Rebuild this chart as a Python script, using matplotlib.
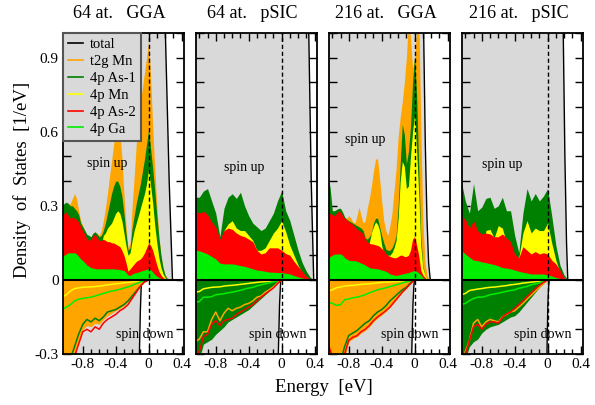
import matplotlib
matplotlib.use('Agg')
import matplotlib.pyplot as plt
from matplotlib.lines import Line2D
from matplotlib.ticker import FixedLocator, MultipleLocator

plt.rcParams['font.family'] = ['Liberation Serif', 'DejaVu Serif']
plt.rcParams['axes.unicode_minus'] = False

# ---------------- data ----------------
titles = ["64 at.   GGA", "64 at.   pSIC", "216 at.   GGA", "216 at.   pSIC"]
legend_labels = ["total", "t2g Mn", "4p As-1", "4p Mn", "4p As-2", "4p Ga"]

# fine energy grid (GGA spin up) and coarse grids
E_fine = [-1.05, -1.025, -1.0, -0.975, -0.95, -0.925, -0.9, -0.875, -0.85, -0.825,
          -0.8, -0.775, -0.75, -0.725, -0.7, -0.675, -0.65, -0.625, -0.6, -0.575,
          -0.55, -0.525, -0.5, -0.475, -0.45, -0.425, -0.4, -0.375, -0.35, -0.325,
          -0.3, -0.275, -0.25, -0.225, -0.2, -0.175, -0.15, -0.125, -0.1, -0.075,
          -0.05, -0.025, 0.0, 0.025, 0.05, 0.075, 0.1, 0.125, 0.15, 0.175,
          0.2, 0.225, 0.25, 0.275, 0.3, 0.325, 0.35]
E_coarse = [-1.05, -1.0, -0.95, -0.9, -0.85, -0.8, -0.75, -0.7, -0.65, -0.6,
            -0.55, -0.5, -0.45, -0.4, -0.35, -0.3, -0.25, -0.2, -0.15, -0.1,
            -0.05, 0.0, 0.05, 0.1, 0.15, 0.2, 0.25, 0.3, 0.35, 0.4]
E_down = [-1.05, -1.0, -0.95, -0.9, -0.85, -0.8, -0.75, -0.7, -0.65, -0.6,
          -0.55, -0.5, -0.45, -0.4, -0.35, -0.3, -0.25, -0.2, -0.15, -0.1,
          -0.05, 0.0]

# ---- panel 1: 64 at. GGA ----
p1_t2g_up = [0.29, 0.29, 0.30, 0.30, 0.31, 0.33, 0.35, 0.33, 0.28, 0.24,
             0.22, 0.20, 0.18, 0.17, 0.17, 0.18, 0.19, 0.19, 0.18, 0.20,
             0.24, 0.29, 0.35, 0.42, 0.48, 0.55, 0.60, 0.62, 0.60, 0.50,
             0.35, 0.22, 0.13, 0.15, 0.30, 0.42, 0.55, 0.65, 0.72, 0.78,
             0.84, 0.90, 0.97, 0.82, 0.62, 0.45, 0.30, 0.18, 0.10, 0.05,
             0.02, 0.01, 0, 0, 0, 0, 0]
p1_as1_up = [0.30, 0.31, 0.315, 0.31, 0.30, 0.30, 0.29, 0.28, 0.265, 0.23,
             0.215, 0.20, 0.185, 0.18, 0.175, 0.19, 0.195, 0.185, 0.175, 0.18,
             0.20, 0.23, 0.27, 0.31, 0.35, 0.38, 0.40, 0.40, 0.38, 0.34,
             0.27, 0.19, 0.12, 0.13, 0.21, 0.26, 0.31, 0.35, 0.39, 0.44,
             0.49, 0.55, 0.61, 0.53, 0.45, 0.36, 0.26, 0.17, 0.10, 0.05,
             0.02, 0.005, 0, 0, 0, 0, 0]
p1_mn4p_up = [0.08, 0.08, 0.08, 0.08, 0.08, 0.08, 0.08, 0.08, 0.08, 0.08,
              0.08, 0.08, 0.08, 0.08, 0.08, 0.08, 0.08, 0.08, 0.08, 0.14,
              0.18, 0.19, 0.21, 0.22, 0.23, 0.25, 0.27, 0.28, 0.27, 0.24,
              0.19, 0.14, 0.10, 0.11, 0.16, 0.20, 0.23, 0.26, 0.29, 0.32,
              0.35, 0.39, 0.45, 0.38, 0.31, 0.22, 0.15, 0.09, 0.05, 0.025,
              0.01, 0, 0, 0, 0, 0, 0]
p1_as2_up = [0.26, 0.27, 0.275, 0.26, 0.25, 0.255, 0.25, 0.245, 0.235, 0.215,
             0.20, 0.185, 0.165, 0.16, 0.165, 0.18, 0.185, 0.17, 0.16, 0.16,
             0.165, 0.16, 0.155, 0.155, 0.15, 0.15, 0.145, 0.14, 0.135, 0.12,
             0.10, 0.07, 0.035, 0.045, 0.055, 0.065, 0.075, 0.08, 0.085, 0.095,
             0.11, 0.13, 0.15, 0.14, 0.12, 0.09, 0.06, 0.035, 0.02, 0.01,
             0.004, 0, 0, 0, 0, 0, 0]
p1_ga_up = [0.10, 0.10, 0.105, 0.11, 0.11, 0.11, 0.11, 0.105, 0.095, 0.085,
            0.078, 0.07, 0.06, 0.055, 0.05, 0.048, 0.046, 0.045, 0.045, 0.045,
            0.045, 0.045, 0.045, 0.045, 0.045, 0.045, 0.044, 0.043, 0.042, 0.04,
            0.038, 0.03, 0.02, 0.018, 0.024, 0.028, 0.03, 0.032, 0.035, 0.038,
            0.04, 0.043, 0.046, 0.04, 0.032, 0.022, 0.015, 0.01, 0.006, 0.003,
            0.001, 0, 0, 0, 0, 0, 0]
p1_t2g_dn = [-0.48, -0.42, -0.34, -0.30, -0.25, -0.20, -0.185, -0.19, -0.175, -0.18,
             -0.16, -0.145, -0.135, -0.125, -0.115, -0.105, -0.09, -0.07, -0.048, -0.025,
             -0.008, 0]
p1_as1_dn = [-0.45, -0.40, -0.32, -0.27, -0.22, -0.18, -0.16, -0.17, -0.155, -0.165,
             -0.15, -0.13, -0.125, -0.12, -0.11, -0.10, -0.085, -0.065, -0.045, -0.025,
             -0.008, 0]
p1_mn4p_dn = [-0.07, -0.06, -0.045, -0.035, -0.032, -0.03, -0.029, -0.028, -0.027, -0.025,
              -0.023, -0.02, -0.018, -0.016, -0.014, -0.012, -0.01, -0.008, -0.006, -0.004,
              -0.002, 0]
p1_as2_dn = [-0.5, -0.45, -0.36, -0.31, -0.26, -0.21, -0.20, -0.21, -0.19, -0.20,
             -0.175, -0.16, -0.15, -0.14, -0.125, -0.115, -0.10, -0.075, -0.05, -0.025,
             -0.008, 0]
p1_ga_dn = [-0.12, -0.11, -0.10, -0.085, -0.078, -0.075, -0.072, -0.07, -0.065, -0.06,
            -0.055, -0.05, -0.045, -0.042, -0.038, -0.033, -0.028, -0.022, -0.015, -0.008,
            -0.003, 0]
p1_Etot_up = [-1.05, 0.17, 0.2, 0.25, 0.29, 0.45]
p1_tot_up = [3.0, 3.0, 1.05, 0.4, 0.0, 0.0]
p1_Etot_dn = [-1.05, -0.125, -0.112, -0.1, -0.09, -0.083, 0.45]
p1_tot_dn = [-3.0, -1.0, -0.3, -0.12, -0.03, 0.0, 0.0]

# ---- panel 2: 64 at. pSIC ----
p2_t2g_up = [0.15, 0.15, 0.15, 0.15, 0.15, 0.15, 0.15, 0.22, 0.24, 0.254,
             0.24, 0.24, 0.24, 0.215, 0.19, 0.14, 0.145, 0.15, 0.185, 0.21,
             0.24, 0.26, 0.21, 0.16, 0.10, 0.06, 0.03, 0.01, 0.0, 0.0]
p2_as1_up = [0.335, 0.335, 0.36, 0.37, 0.32, 0.27, 0.175, 0.29, 0.335, 0.349,
             0.33, 0.355, 0.30, 0.26, 0.23, 0.215, 0.20, 0.21, 0.24, 0.27,
             0.32, 0.36, 0.28, 0.24, 0.18, 0.12, 0.07, 0.035, 0.01, 0.0]
p2_mn4p_up = [0.08, 0.08, 0.08, 0.08, 0.08, 0.08, 0.08, 0.20, 0.227, 0.24,
              0.21, 0.20, 0.20, 0.18, 0.16, 0.12, 0.12, 0.13, 0.16, 0.19,
              0.21, 0.24, 0.195, 0.14, 0.10, 0.06, 0.03, 0.01, 0.0, 0.0]
p2_as2_up = [0.28, 0.27, 0.278, 0.265, 0.235, 0.215, 0.165, 0.20, 0.21, 0.205,
             0.19, 0.18, 0.175, 0.165, 0.155, 0.12, 0.105, 0.11, 0.13, 0.13,
             0.13, 0.12, 0.107, 0.10, 0.075, 0.055, 0.035, 0.015, 0.005, 0.0]
p2_ga_up = [0.12, 0.118, 0.112, 0.105, 0.095, 0.085, 0.068, 0.065, 0.065, 0.065,
            0.062, 0.058, 0.055, 0.05, 0.045, 0.04, 0.038, 0.035, 0.032, 0.031,
            0.03, 0.03, 0.027, 0.024, 0.018, 0.012, 0.008, 0.004, 0.001, 0.0]
p2_as1_dn = [-0.4, -0.32, -0.26, -0.25, -0.24, -0.22, -0.205, -0.19, -0.17, -0.16,
             -0.15, -0.14, -0.13, -0.12, -0.105, -0.09, -0.075, -0.06, -0.045, -0.03,
             -0.014, 0]
p2_t2g_dn = [-0.25, -0.24, -0.21, -0.21, -0.16, -0.13, -0.165, -0.135, -0.115, -0.125,
             -0.115, -0.11, -0.10, -0.095, -0.085, -0.07, -0.065, -0.05, -0.04, -0.028,
             -0.012, 0]
p2_as2_dn = [-0.3, -0.29, -0.23, -0.22, -0.18, -0.165, -0.185, -0.165, -0.16, -0.155,
             -0.14, -0.13, -0.12, -0.11, -0.10, -0.085, -0.07, -0.057, -0.045, -0.033,
             -0.015, 0]
p2_mn4p_dn = [-0.05, -0.047, -0.036, -0.033, -0.03, -0.029, -0.028, -0.025, -0.023, -0.022,
              -0.02, -0.018, -0.016, -0.014, -0.012, -0.01, -0.008, -0.007, -0.005, -0.003,
              -0.002, 0]
p2_ga_dn = [-0.09, -0.088, -0.07, -0.07, -0.068, -0.06, -0.058, -0.056, -0.052, -0.05,
            -0.046, -0.042, -0.037, -0.033, -0.03, -0.024, -0.02, -0.016, -0.012, -0.008,
            -0.004, 0]
p2_Etot_up = [-1.05, 0.31, 0.33, 0.36, 0.39, 0.45]
p2_tot_up = [3.0, 3.0, 1.0, 0.4, 0.0, 0.0]
p2_Etot_dn = [-1.05, -0.05, -0.04, -0.025, -0.015, -0.01, 0.45]
p2_tot_dn = [-3.0, -1.0, -0.3, -0.1, -0.03, 0.0, 0.0]

# ---- panel 3: 216 at. GGA ----
p3_t2g_up = [0.38, 0.34, 0.27, 0.27, 0.28, 0.285, 0.28, 0.27, 0.25, 0.25,
             0.26, 0.25, 0.235, 0.23, 0.26, 0.295, 0.26, 0.23, 0.24, 0.29,
             0.33, 0.38, 0.44, 0.49, 0.49, 0.41, 0.32, 0.24, 0.20, 0.18,
             0.22, 0.27, 0.36, 0.45, 0.58, 0.66, 0.72, 0.80, 0.90, 1.05,
             0.98, 0.86, 0.89, 1.02, 1.1, 0.62, 0.24, 0.08, 0.02, 0,
             0, 0, 0, 0, 0, 0, 0]
p3_as1_up = [0.42, 0.37, 0.28, 0.28, 0.285, 0.29, 0.29, 0.275, 0.255, 0.245,
             0.24, 0.235, 0.23, 0.225, 0.22, 0.215, 0.21, 0.20, 0.17, 0.165,
             0.175, 0.19, 0.23, 0.25, 0.25, 0.215, 0.18, 0.15, 0.125, 0.12,
             0.12, 0.13, 0.15, 0.18, 0.30, 0.47, 0.63, 0.59, 0.47, 0.52,
             0.62, 0.80, 0.91, 0.74, 0.46, 0.18, 0.06, 0.02, 0.005, 0,
             0, 0, 0, 0, 0, 0, 0]
p3_mn4p_up = [0.08, 0.08, 0.08, 0.08, 0.08, 0.08, 0.08, 0.08, 0.08, 0.08,
              0.08, 0.08, 0.08, 0.08, 0.08, 0.08, 0.08, 0.08, 0.08, 0.10,
              0.15, 0.19, 0.215, 0.235, 0.225, 0.20, 0.14, 0.11, 0.10, 0.10,
              0.10, 0.11, 0.13, 0.16, 0.25, 0.40, 0.48, 0.46, 0.37, 0.38,
              0.50, 0.60, 0.67, 0.52, 0.35, 0.14, 0.05, 0.02, 0.005, 0,
              0, 0, 0, 0, 0, 0, 0]
p3_as2_up = [0.27, 0.27, 0.265, 0.26, 0.27, 0.28, 0.275, 0.26, 0.25, 0.245,
             0.235, 0.23, 0.225, 0.215, 0.205, 0.20, 0.195, 0.186, 0.165, 0.155,
             0.148, 0.146, 0.145, 0.142, 0.14, 0.135, 0.127, 0.12, 0.108, 0.10,
             0.095, 0.092, 0.09, 0.09, 0.095, 0.10, 0.10, 0.095, 0.095, 0.10,
             0.12, 0.165, 0.175, 0.14, 0.10, 0.04, 0.02, 0.01, 0.002, 0,
             0, 0, 0, 0, 0, 0, 0]
p3_ga_up = [0.09, 0.095, 0.10, 0.105, 0.105, 0.105, 0.105, 0.10, 0.09, 0.085,
            0.08, 0.078, 0.078, 0.078, 0.075, 0.072, 0.068, 0.065, 0.06, 0.055,
            0.05, 0.048, 0.047, 0.046, 0.045, 0.043, 0.04, 0.038, 0.035, 0.03,
            0.025, 0.022, 0.02, 0.018, 0.02, 0.022, 0.024, 0.026, 0.028, 0.03,
            0.033, 0.036, 0.038, 0.035, 0.028, 0.02, 0.01, 0.004, 0.001, 0,
            0, 0, 0, 0, 0, 0, 0]
p3_t2g_dn = [-0.45, -0.42, -0.38, -0.35, -0.32, -0.25, -0.238, -0.23, -0.215, -0.205,
             -0.19, -0.17, -0.155, -0.142, -0.128, -0.112, -0.092, -0.072, -0.05, -0.035,
             -0.015, 0]
p3_as1_dn = [-0.45, -0.42, -0.38, -0.33, -0.27, -0.225, -0.215, -0.205, -0.19, -0.175,
             -0.165, -0.145, -0.13, -0.12, -0.105, -0.085, -0.07, -0.055, -0.04, -0.03,
             -0.012, 0]
p3_as2_dn = [-0.26, -0.31, -0.34, -0.33, -0.30, -0.245, -0.232, -0.226, -0.21, -0.2,
             -0.185, -0.165, -0.15, -0.138, -0.125, -0.11, -0.09, -0.07, -0.05, -0.033,
             -0.015, 0]
p3_mn4p_dn = [-0.045, -0.04, -0.032, -0.028, -0.025, -0.023, -0.022, -0.02, -0.018, -0.017,
              -0.016, -0.014, -0.012, -0.01, -0.009, -0.008, -0.007, -0.006, -0.004, -0.003,
              -0.002, 0]
p3_ga_dn = [-0.09, -0.095, -0.103, -0.1, -0.08, -0.077, -0.072, -0.07, -0.065, -0.06,
            -0.052, -0.046, -0.04, -0.036, -0.032, -0.027, -0.022, -0.018, -0.012, -0.008,
            -0.004, 0]
p3_Etot_up = [-1.05, 0.09, 0.11, 0.13, 0.15, 0.17, 0.19, 0.45]
p3_tot_up = [3.0, 3.0, 1.0, 0.55, 0.25, 0.07, 0.0, 0.0]
p3_Etot_dn = [-1.05, -0.045, -0.035, -0.02, -0.01, -0.002, 0.45]
p3_tot_dn = [-3.0, -1.0, -0.3, -0.1, -0.03, 0.0, 0.0]

# ---- panel 4: 216 at. pSIC ----
p4_t2g_up = [0.2, 0.2, 0.2, 0.2, 0.2, 0.19, 0.21, 0.22, 0.19, 0.245,
             0.235, 0.17, 0.15, 0.12, 0.10, 0.21, 0.27, 0.23, 0.24, 0.25,
             0.27, 0.28, 0.22, 0.11, 0.04, 0.01, 0, 0, 0, 0]
p4_as1_up = [0.40, 0.32, 0.27, 0.39, 0.28, 0.295, 0.33, 0.335, 0.29, 0.30,
             0.335, 0.28, 0.28, 0.18, 0.11, 0.27, 0.37, 0.32, 0.35, 0.32,
             0.34, 0.37, 0.26, 0.14, 0.06, 0.02, 0, 0, 0, 0]
p4_mn4p_up = [0.08, 0.08, 0.08, 0.08, 0.08, 0.08, 0.20, 0.205, 0.17, 0.22,
              0.21, 0.15, 0.12, 0.10, 0.09, 0.19, 0.24, 0.19, 0.21, 0.20,
              0.20, 0.23, 0.15, 0.08, 0.03, 0.01, 0, 0, 0, 0]
p4_as2_up = [0.26, 0.245, 0.21, 0.24, 0.20, 0.186, 0.19, 0.186, 0.175, 0.175,
             0.186, 0.17, 0.155, 0.105, 0.09, 0.135, 0.12, 0.105, 0.115, 0.105,
             0.11, 0.105, 0.08, 0.065, 0.04, 0.01, 0, 0, 0, 0]
p4_ga_up = [0.12, 0.105, 0.092, 0.08, 0.078, 0.073, 0.07, 0.066, 0.062, 0.057,
            0.05, 0.048, 0.045, 0.04, 0.035, 0.031, 0.028, 0.024, 0.024, 0.024,
            0.024, 0.02, 0.016, 0.01, 0.006, 0.002, 0, 0, 0, 0]
p4_as1_dn = [-0.45, -0.32, -0.27, -0.25, -0.24, -0.215, -0.2, -0.19, -0.185, -0.18,
             -0.17, -0.16, -0.15, -0.145, -0.13, -0.11, -0.09, -0.07, -0.05, -0.03,
             -0.014, 0]
p4_t2g_dn = [-0.35, -0.29, -0.245, -0.175, -0.16, -0.19, -0.17, -0.16, -0.165, -0.17,
             -0.15, -0.14, -0.13, -0.125, -0.11, -0.095, -0.078, -0.062, -0.046, -0.03,
             -0.015, 0]
p4_as2_dn = [-0.35, -0.3, -0.246, -0.19, -0.18, -0.2, -0.18, -0.17, -0.17, -0.175,
             -0.152, -0.138, -0.13, -0.115, -0.1, -0.085, -0.068, -0.052, -0.037, -0.022,
             -0.01, 0]
p4_mn4p_dn = [-0.06, -0.055, -0.043, -0.04, -0.037, -0.035, -0.032, -0.03, -0.029, -0.027,
              -0.025, -0.023, -0.02, -0.018, -0.016, -0.013, -0.011, -0.009, -0.007, -0.005,
              -0.002, 0]
p4_ga_dn = [-0.1, -0.095, -0.084, -0.075, -0.07, -0.07, -0.066, -0.06, -0.057, -0.054,
            -0.05, -0.046, -0.043, -0.04, -0.034, -0.03, -0.026, -0.02, -0.016, -0.012,
            -0.005, 0]
p4_Etot_up = [-1.05, 0.17, 0.19, 0.21, 0.23, 0.245, 0.45]
p4_tot_up = [3.0, 3.0, 1.0, 0.5, 0.15, 0.0, 0.0]
p4_Etot_dn = [-1.05, -0.02, -0.008, 0.003, 0.012, 0.02, 0.45]
p4_tot_dn = [-3.0, -1.0, -0.3, -0.1, -0.03, 0.0, 0.0]

spin_up_pos = [(-0.5, 0.47), (-0.45, 0.455), (-0.6, 0.57), (-0.55, 0.466)]
spin_dn_pos = [(-0.05, -0.22), (-0.045, -0.22), (-0.06, -0.22), (-0.06, -0.22)]

# ---------------- style ----------------
GRAY = '#d9d9d9'
C_T2G = '#ffa500'
C_AS1 = '#008000'
C_MN = '#ffff00'
C_AS2 = '#ff0000'
C_GA = '#00ee00'

panels = [
    dict(E_up=E_fine, up=[p1_t2g_up, p1_as1_up, p1_mn4p_up, p1_as2_up, p1_ga_up],
         dn=dict(t2g=p1_t2g_dn, as1=p1_as1_dn, mn=p1_mn4p_dn, as2=p1_as2_dn, ga=p1_ga_dn),
         fill='t2g', Etu=p1_Etot_up, tu=p1_tot_up, Etd=p1_Etot_dn, td=p1_tot_dn),
    dict(E_up=E_coarse, up=[p2_t2g_up, p2_as1_up, p2_mn4p_up, p2_as2_up, p2_ga_up],
         dn=dict(t2g=p2_t2g_dn, as1=p2_as1_dn, mn=p2_mn4p_dn, as2=p2_as2_dn, ga=p2_ga_dn),
         fill='as1', Etu=p2_Etot_up, tu=p2_tot_up, Etd=p2_Etot_dn, td=p2_tot_dn),
    dict(E_up=E_fine, up=[p3_t2g_up, p3_as1_up, p3_mn4p_up, p3_as2_up, p3_ga_up],
         dn=dict(t2g=p3_t2g_dn, as1=p3_as1_dn, mn=p3_mn4p_dn, as2=p3_as2_dn, ga=p3_ga_dn),
         fill='t2g', Etu=p3_Etot_up, tu=p3_tot_up, Etd=p3_Etot_dn, td=p3_tot_dn),
    dict(E_up=E_coarse, up=[p4_t2g_up, p4_as1_up, p4_mn4p_up, p4_as2_up, p4_ga_up],
         dn=dict(t2g=p4_t2g_dn, as1=p4_as1_dn, mn=p4_mn4p_dn, as2=p4_as2_dn, ga=p4_ga_dn),
         fill='as1', Etu=p4_Etot_up, tu=p4_tot_up, Etd=p4_Etot_dn, td=p4_tot_dn),
]
up_colors = [C_T2G, C_AS1, C_MN, C_AS2, C_GA]
dn_color = dict(t2g=C_T2G, as1=C_AS1, mn=C_MN, as2=C_AS2, ga=C_GA)

W, H = 595, 405
fig = plt.figure(figsize=(W / 100, H / 100), dpi=100)
lefts = [63, 196, 329, 462]
pw = 121
top_px, bot_px = 33, 354

for i, p in enumerate(panels):
    ax = fig.add_axes([lefts[i] / W, (H - bot_px) / H, pw / W, (bot_px - top_px) / H])
    ax.fill_between(p['Etu'], 0, p['tu'], color=GRAY, lw=0, zorder=1)
    ax.fill_between(p['Etd'], 0, p['td'], color=GRAY, lw=0, zorder=1)
    ax.plot(p['Etu'], p['tu'], color='black', lw=1.0, zorder=2)
    ax.plot(p['Etd'], p['td'], color='black', lw=1.0, zorder=2)
    for vals, c in zip(p['up'], up_colors):
        ax.fill_between(p['E_up'], 0, vals, color=c, lw=0, zorder=3)
    d = p['dn']
    ax.fill_between(E_down, 0, d[p['fill']], color=dn_color[p['fill']], lw=0, zorder=3)
    line_order = ['mn', 'ga', 'as1', 'as2'] if p['fill'] == 't2g' else ['mn', 'ga', 't2g', 'as2']
    for k in line_order:
        ax.plot(E_down, d[k], color=dn_color[k], lw=1.1, zorder=4)
    ax.axhline(0, color='black', lw=1.5, zorder=6)
    ax.axvline(0, color='black', lw=1.0, ls=(0, (3, 2)), zorder=6)

    ax.set_xlim(-1.04, 0.43)
    ax.set_ylim(-0.3, 1.0)
    ax.xaxis.set_major_locator(FixedLocator([-0.8, -0.4, 0.0, 0.4]))
    ax.xaxis.set_minor_locator(MultipleLocator(0.1))
    ax.yaxis.set_major_locator(FixedLocator([-0.3, 0.0, 0.3, 0.6, 0.9]))
    ax.yaxis.set_minor_locator(MultipleLocator(0.1))
    ax.tick_params(which='both', direction='in', top=True, right=True, width=1.0)
    ax.tick_params(axis='x', which='major', length=6, labelsize=11, pad=3)
    ax.tick_params(axis='x', which='minor', length=3.5)
    ax.tick_params(axis='y', which='both', length=6, labelsize=11, pad=3)
    ax.set_xticklabels(['-0.8', '-0.4', '0', '0.4'])
    if i == 0:
        ax.set_yticklabels(['-0.3', '0', '0.3', '0.6', '0.9'])
    else:
        ax.set_yticklabels([])
    for s in ax.spines.values():
        s.set_linewidth(1.3)
        s.set_zorder(10)

    ax.text(spin_up_pos[i][0], spin_up_pos[i][1], 'spin up', fontsize=10,
            ha='center', va='center', zorder=7)
    ax.text(spin_dn_pos[i][0], spin_dn_pos[i][1], 'spin down', fontsize=10,
            ha='center', va='center', zorder=7)
    fig.text((lefts[i] + pw / 2 - 4) / W, 1 - 14 / H, titles[i], fontsize=13,
             ha='center', va='center')

    if i == 0:
        handles = [Line2D([], [], color=c, lw=1.2)
                   for c in ['black', C_T2G, C_AS1, C_MN, C_AS2, C_GA]]
        leg = ax.legend(handles, legend_labels, loc='upper left', bbox_to_anchor=(0, 1),
                        borderaxespad=0, fontsize=10.5, frameon=True, fancybox=False,
                        facecolor=GRAY, edgecolor='#555555', framealpha=1,
                        handlelength=1.05, handletextpad=0.45, labelspacing=0.25,
                        borderpad=0.35)
        leg.get_frame().set_linewidth(1.5)
        leg.set_zorder(20)

fig.text(22 / W, 1 - 180 / H, 'Density  of  States  [1/eV]', rotation=90,
         fontsize=13.5, ha='center', va='center')
fig.text(324 / W, 1 - 388 / H, 'Energy  [eV]', fontsize=13.5, ha='center', va='center')

fig.savefig('out.png', dpi=100)
